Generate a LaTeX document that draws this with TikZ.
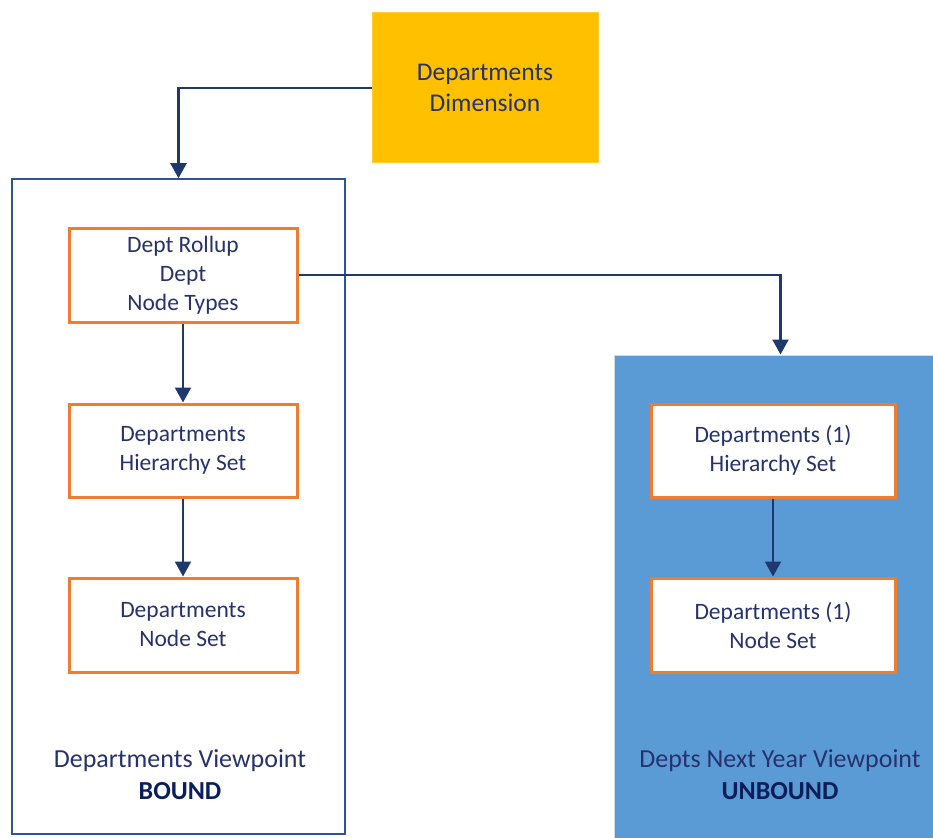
\documentclass[tikz,border=0pt]{standalone}
\usepackage{fontspec}
\setmainfont{Carlito}
\usetikzlibrary{arrows.meta}
\definecolor{navyline}{RGB}{31,56,110}
\definecolor{navytext}{RGB}{38,50,110}
\definecolor{boldnavy}{RGB}{10,30,90}
\definecolor{frameblue}{RGB}{47,84,150}
\definecolor{dimyellow}{RGB}{255,192,0}
\definecolor{skyblue}{RGB}{91,155,213}
\definecolor{boxorange}{RGB}{237,125,49}
\tikzset{
  arr/.style={draw=navyline, line width=2.2pt, -{Triangle[width=16pt,length=15pt]}},
  setbox/.style={draw=boxorange, line width=3pt, fill=white, align=center, text=navytext,
    font=\fontsize{23.5}{29}\selectfont, inner sep=0pt},
  container/.style={inner sep=0pt},
  vplabel/.style={align=center, text=navytext, font=\fontsize{26}{32}\selectfont},
}
\begin{document}
\begin{tikzpicture}[x=1pt,y=-1pt]
\useasboundingbox (0,0) rectangle (933,837);
% containers
\node[container, draw=frameblue, line width=1.5pt, fill=white,
      minimum width=333pt, minimum height=655pt] (leftc) at (178.5,506.5) {};
\node[container, draw=black!15, line width=1pt, fill=skyblue,
      minimum width=333pt, minimum height=483pt] (rightc) at (780.5,596.5) {};
% dimension
\node[container, draw=dimyellow!80!white, line width=1pt, fill=dimyellow, align=center,
      text=navytext, font=\fontsize{25.5}{31}\selectfont,
      minimum width=226pt, minimum height=150pt] (dim) at (485,88) {Departments\\Dimension};
% left sets
\node[setbox, minimum width=228pt, minimum height=94pt] (nt) at (183,275) {Dept Rollup\\Dept\\Node Types};
\node[setbox, minimum width=228pt, minimum height=93pt] (hs) at (183,450.5) {Departments\\Hierarchy Set};
\node[setbox, minimum width=228pt, minimum height=94pt] (ns) at (183,625) {Departments\\Node Set};
% right sets
\node[setbox, minimum width=244pt, minimum height=93pt] (hs1) at (773,450.5) {Departments (1)\\Hierarchy Set};
\node[setbox, minimum width=244pt, minimum height=94pt] (ns1) at (773,625) {Departments (1)\\Node Set};
% labels
\node[vplabel] (lbl) at (180,775) {Departments Viewpoint\\\textcolor{boldnavy}{\bfseries BOUND}};
\node[vplabel] (lbr) at (780,775) {Depts Next Year Viewpoint\\\textcolor{boldnavy}{\bfseries UNBOUND}};
% connectors
\draw[arr] (dim.west) -| (leftc.north);
\draw[arr] (nt.east) -| (rightc.north);
\draw[arr] (nt.south) -- (hs.north);
\draw[arr] (hs.south) -- (ns.north);
\draw[arr] (hs1.south) -- (ns1.north);
\end{tikzpicture}
\end{document}
